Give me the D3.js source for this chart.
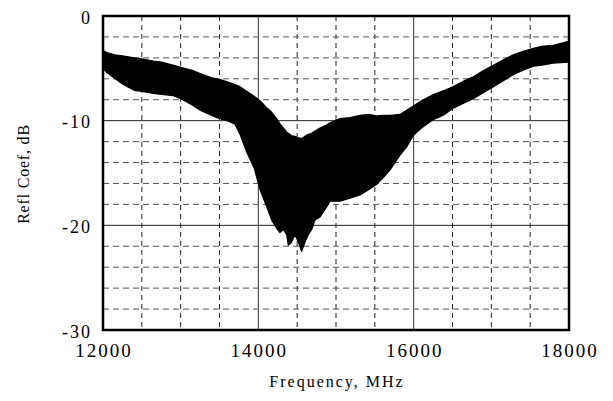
<!DOCTYPE html>
<html><head><meta charset="utf-8">
<script src="https://cdn.jsdelivr.net/npm/d3@7"></script>
<style>body{margin:0;background:#fff}svg{display:block}text{font-family:"Liberation Serif","Times New Roman",serif;fill:#000}</style>
</head><body><svg id="c" width="613" height="401"></svg>
<script>
const freq  = [12000,12050,12150,12250,12400,12500,12650,12750,12900,13000,13150,13250,13400,13500,13600,13700,13764,13850,13950,14022,14107,14172,14236,14279,14322,14365,14386,14429,14472,14515,14558,14601,14644,14687,14730,14794,14858,14923,15052,15180,15309,15420,15520,15600,15696,15824,15910,15996,16100,16253,16400,16511,16650,16768,16900,17026,17150,17283,17400,17541,17650,17798,17900,18000];
const upper = [-3.3,-3.5,-3.7,-3.8,-4.0,-4.1,-4.3,-4.4,-4.7,-4.9,-5.2,-5.5,-5.9,-6.05,-6.3,-6.55,-6.75,-7.2,-7.7,-8.1,-8.75,-9.2,-9.8,-10.3,-10.7,-11.1,-11.2,-11.45,-11.5,-11.65,-11.7,-11.5,-11.3,-11.2,-11.0,-10.7,-10.5,-10.2,-9.8,-9.7,-9.5,-9.4,-9.55,-9.5,-9.5,-9.4,-9.0,-8.6,-8.1,-7.5,-7.1,-6.75,-6.2,-5.8,-5.2,-4.7,-4.2,-3.7,-3.4,-3.1,-2.9,-2.8,-2.6,-2.4];
const lower = [-5.0,-5.4,-5.95,-6.5,-7.1,-7.2,-7.4,-7.5,-7.6,-7.9,-8.5,-9.0,-9.5,-9.8,-10.0,-10.35,-11.3,-13.0,-14.6,-16.6,-18.2,-19.5,-20.3,-20.7,-20.4,-20.9,-21.9,-21.6,-20.9,-21.6,-22.5,-21.6,-20.9,-20.4,-19.5,-19.2,-18.5,-17.7,-17.7,-17.4,-17.1,-16.6,-16.1,-15.5,-14.7,-13.3,-12.5,-11.4,-10.7,-9.9,-9.4,-8.8,-8.3,-7.9,-7.3,-6.75,-6.2,-5.6,-5.2,-4.8,-4.7,-4.5,-4.45,-4.4];
const xTicks = [12000,14000,16000,18000];
const yTicks = [0,-10,-20,-30];
const xGrid = d3.range(12500,18000,500);
const yGrid = d3.range(-2,-30,-2);
const xTitle = "Frequency, MHz";
const yTitle = "Refl Coef, dB";

const svg = d3.select("#c");
const L=103,R=569,T=16,B=330;
const x = d3.scaleLinear().domain([12000,18000]).range([L,R]);
const y = d3.scaleLinear().domain([-30,0]).range([B,T]);

// grid
const g = svg.append("g");
g.selectAll(".vx").data(xGrid).join("line")
  .attr("x1",d=>x(d)).attr("x2",d=>x(d)).attr("y1",T).attr("y2",B)
  .attr("stroke",d=>d%2000===0?"#333":"#222").attr("stroke-width",1)
  .attr("stroke-dasharray",d=>d%2000===0?null:"5,4");
g.selectAll(".hy").data(yGrid).join("line")
  .attr("y1",d=>y(d)).attr("y2",d=>y(d)).attr("x1",L).attr("x2",R)
  .attr("stroke",d=>d%10===0?"#222":"#555").attr("stroke-width",1)
  .attr("stroke-dasharray",d=>d%10===0?null:"6,4");

// data band
const data = freq.map((f,i)=>({f,u:upper[i],l:lower[i]}));
svg.append("path").datum(data)
  .attr("d",d3.area().x(d=>x(d.f)).y0(d=>y(d.l)).y1(d=>y(d.u)))
  .attr("fill","#000").attr("stroke","#000").attr("stroke-width",1.2).attr("stroke-linejoin","round");

// frame
svg.append("rect").attr("x",L).attr("y",T).attr("width",R-L).attr("height",B-T)
  .attr("fill","none").attr("stroke","#000").attr("stroke-width",2.5);

// axes labels
svg.selectAll(".yt").data(yTicks).join("text")
  .attr("x",92).attr("y",d=>y(d)+7.5).attr("text-anchor","end")
  .attr("font-size",18).attr("letter-spacing",2).text(d=>d);
svg.selectAll(".xt").data(xTicks).join("text")
  .attr("x",d=>x(d)+1).attr("y",357).attr("text-anchor","middle")
  .attr("font-size",19).attr("letter-spacing",2).text(d=>d);
svg.append("text").attr("x",337).attr("y",387).attr("text-anchor","middle")
  .attr("font-size",16).attr("letter-spacing",2).text(xTitle);
svg.append("text").attr("transform","translate(29,174) rotate(-90)").attr("text-anchor","middle")
  .attr("font-size",16).attr("letter-spacing",0.8).text(yTitle);
</script></body></html>
